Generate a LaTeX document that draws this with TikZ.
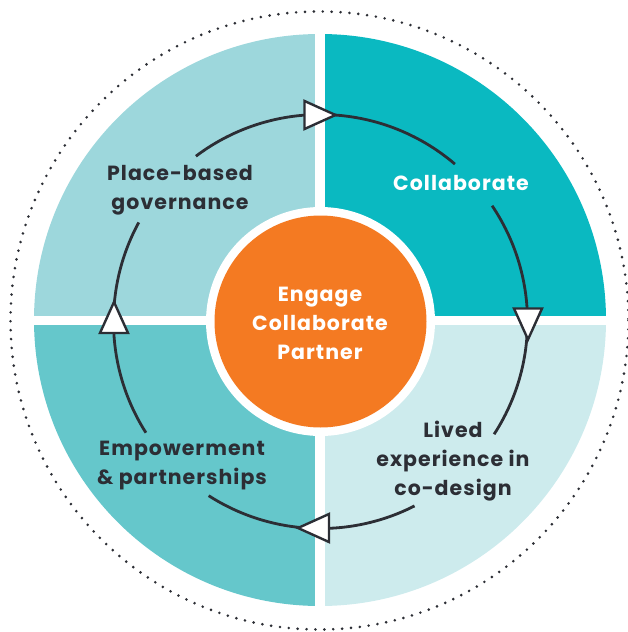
\documentclass[tikz,border=0pt]{standalone}
\usepackage{fontspec}
\setmainfont{Poppins}[LetterSpace=5]
\usetikzlibrary{calc}
\definecolor{qTL}{HTML}{9DD7DC}
\definecolor{qTR}{HTML}{0AB9C1}
\definecolor{qBL}{HTML}{65C7CB}
\definecolor{qBR}{HTML}{CDEBED}
\definecolor{orng}{HTML}{F47A22}
\definecolor{ink}{HTML}{2C2E35}
\begin{document}
\begin{tikzpicture}[x=1pt,y=-1pt,
  cyc/.style={draw=ink, line width=2.8pt},
  tri/.style={draw=ink, fill=white, line width=2.4pt, line join=miter},
  lbl/.style={font=\fontsize{20.5}{28.8}\selectfont\bfseries, align=center, text=ink},
  wlbl/.style={font=\fontsize{20.5}{28.8}\selectfont\bfseries, align=center, text=white}]
\useasboundingbox (0,0) rectangle (627,632);
\coordinate (Q) at (320,320);
\coordinate (C) at (320.5,321.5);
% dotted outer ring
\draw[ink, line width=2.9pt, line cap=round, dash pattern=on 0pt off 8.9pt] (319.5,320.5) circle[radius=309];
% quadrants
\fill[qTL] (Q) -- ($(Q)+(180:286)$) arc[start angle=180, end angle=270, radius=286] -- cycle;
\fill[qTR] (Q) -- ($(Q)+(270:286)$) arc[start angle=270, end angle=360, radius=286] -- cycle;
\fill[qBR] (Q) -- ($(Q)+(0:286)$) arc[start angle=0, end angle=90, radius=286] -- cycle;
\fill[qBL] (Q) -- ($(Q)+(90:286)$) arc[start angle=90, end angle=180, radius=286] -- cycle;
\draw[white, line width=9.8pt] (320,25) -- (320,615);
\draw[white, line width=9.6pt] (25,320.3) -- (615,320.3);
% centre
\fill[white] (C) circle[radius=114.5];
\node[circle, fill=orng, minimum size=212pt, inner sep=0pt] (hub) at (C) {};
\node[wlbl] (hubtxt) at (320,323.5) {Engage\\Collaborate\\Partner};
% cycle arcs
\draw[cyc] ($(C)+(-127:207)$) arc[start angle=-127, end angle=-49.5, radius=207];
\draw[cyc] ($(C)+(-34:207)$) arc[start angle=-34, end angle=33, radius=207];
\draw[cyc] ($(C)+(63:207)$) arc[start angle=63, end angle=122.7, radius=207];
\draw[cyc] ($(C)+(147.5:207)$) arc[start angle=147.5, end angle=208.6, radius=207];
% arrowheads
\coordinate (aT) at (320,115);
\coordinate (aR) at (528,324);
\coordinate (aB) at (313.5,528);
\coordinate (aL) at (114,317.5);
\foreach \p/\r in {aT/0, aR/270, aB/180, aL/90}{
  \begin{scope}[shift={(\p)}, rotate=\r]
    \draw[tri] (-15.5,-14) -- (15.5,0) -- (-15.5,14) -- cycle;
  \end{scope}
}
% labels
\node[lbl] (pbg) at (180,190.5) {Place-based\\governance};
\node[wlbl] (col) at (461,183) {Collaborate};
\node[lbl] (lec) at (453,461) {Lived\\experience in\\co-design};
\node[lbl] (emp) at (182,465.5) {Empowerment\\\&\ partnerships};
\end{tikzpicture}
\end{document}
